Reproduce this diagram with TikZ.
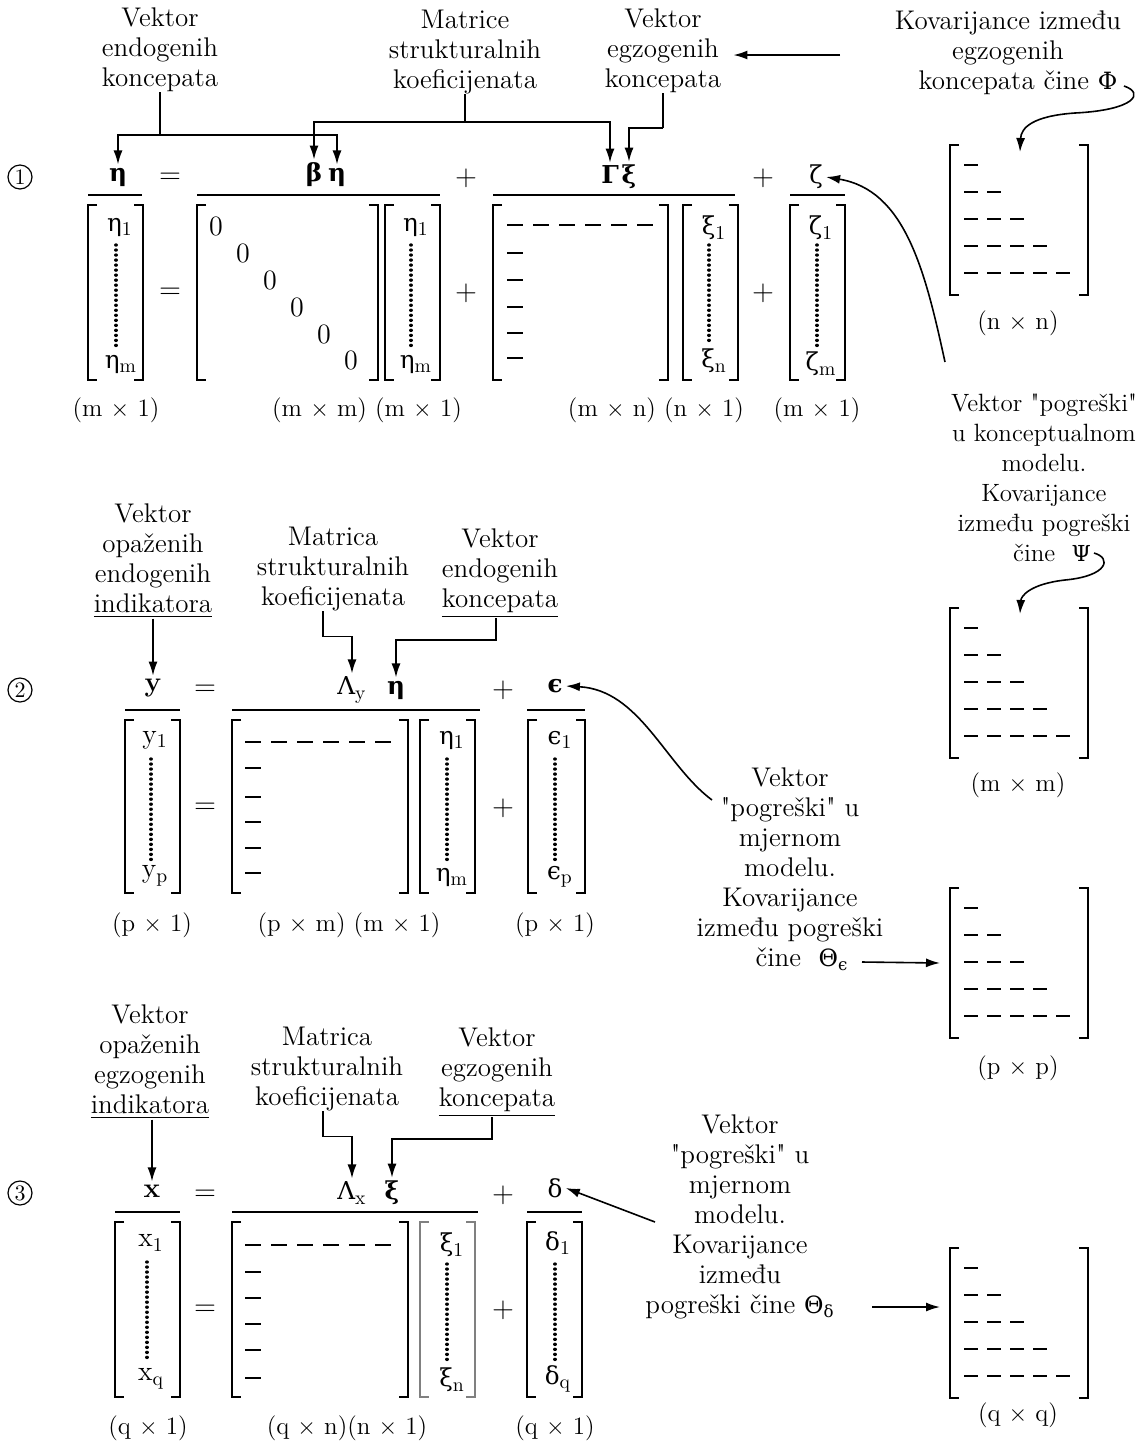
\documentclass[tikz,border=0pt]{standalone}
\usepackage{amsmath,amssymb}
\usepackage{fontspec}
\setmainfont{Latin Modern Roman}[Ligatures=TeXOff]
\newfontfamily\grk{DejaVu Serif}[Scale=0.88]
\newcommand\G[1]{{\grk #1}}
\newcommand\GB[1]{{\grk\bfseries #1}}
\usetikzlibrary{arrows.meta,calc}
\newcommand\mbrk[4]{%
 \draw[brk] (#1+9,#2) -- (#1,#2) -- (#1,#4) -- (#1+9,#4);
 \draw[brk] (#3-9,#2) -- (#3,#2) -- (#3,#4) -- (#3-9,#4);}
\newcommand\trimat[1]{%
 \draw[brk] (959,#1) -- (950,#1) -- (950,#1+150) -- (959,#1+150);
 \draw[brk] (1079,#1) -- (1088,#1) -- (1088,#1+150) -- (1079,#1+150);
 \foreach \r in {1,...,5}{\foreach \k in {1,...,\r}{\draw[dsh] ({964+(\k-1)*23},{#1+20+(\r-1)*27}) -- ++(14,0);}}}
\newcommand\lowmat[3]{% x0, ytop row, list of column rows
 \foreach \k in {0,...,5}{\draw[dsh] ({#1+\k*26},#2) -- ++(16,0);}
 \foreach \yy in {#3}{\draw[dsh] (#1,\yy) -- ++(16,0);}}
\begin{document}
\begin{tikzpicture}[x=0.5pt,y=-0.5pt,
 txt/.style={font=\fontsize{13.5}{15}\selectfont, align=center, inner sep=0pt},
 dim/.style={font=\fontsize{12.5}{15}\selectfont, inner sep=0pt},
 sym/.style={font=\fontsize{14}{15}\selectfont, inner sep=1.5pt},
 ln/.style={line width=0.8pt},
 arr/.style={line width=0.8pt,-{Latex[length=7pt,width=4.5pt]}},
 brk/.style={line width=0.9pt},
 dsh/.style={line width=0.8pt},
 dotv/.style={line width=1.7pt, dash pattern=on 0.01pt off 2.5pt, line cap=round},
 circ/.style={circle,draw,line width=0.6pt,inner sep=0pt,minimum size=12pt,font=\fontsize{11}{13}\selectfont}]
\fill[white] (0,0) rectangle (1141,1448);
\useasboundingbox (0,0) rectangle (1141,1448);

%% ================= ROW 1 =================
\node[txt] (lab1a) at (160,50) {Vektor\\endogenih\\koncepata};
\node[txt] (lab1b) at (465,52) {Matrice\\strukturalnih\\koeficijenata};
\node[txt] (lab1c) at (663,51) {Vektor\\egzogenih\\koncepata};
\node[txt] (lab1d) at (1008,53) {Kovarijance između\\egzogenih\\\hspace*{10pt}koncepata čine \G{Φ}};

\node[circ] (c1) at (20,177) {1};
\node[sym] (eta0) at (118,177) {\GB{η}};
\node[sym] (eq1) at (170,178) {$=$};
\node[sym] (beta) at (314,175) {\GB{β}};
\node[sym] (eta1) at (337,177) {\GB{η}};
\node[sym] (pl1) at (466,178) {$+$};
\node[sym] (Gam) at (610,175) {\GB{Γ}};
\node[sym] (xi1) at (629,177) {\GB{ξ}};
\node[sym] (pl2) at (763,178) {$+$};
\node[sym] (zeta) at (816,177) {\G{ζ}};
\draw[ln] (88,195) -- (142,195);
\draw[ln] (197,195) -- (440,195);
\draw[ln] (493,195) -- (735,195);
\draw[ln] (790,195) -- (845,195);

\coordinate (j1a) at (160,135);
\draw[ln] (lab1a.south) -- (j1a);
\draw[arr] (j1a) -| (eta0.north);
\draw[arr] (j1a) -| (eta1.north);
\coordinate (j1b) at (465,122);
\draw[ln] (lab1b.south) -- (j1b);
\draw[arr] (j1b) -| (beta.north);
\draw[arr] (j1b) -| (Gam.north);
\coordinate (j1c) at (663,128);
\draw[ln] (lab1c.south) -- (j1c);
\draw[arr] (j1c) -| (xi1.north);
\coordinate (a1s) at (840,55);
\draw[arr,shorten >=6pt] (a1s) -- (a1s -| lab1c.east);

% matrices row 1
\mbrk{88}{205}{143}{380}
\node[sym] (e11) at (120,227) {\G{η}\textsubscript{1}};
\node[sym] (e1m) at (121,364) {\G{η}\textsubscript{m}};
\draw[dotv] (116,245) -- (116,346);
\node[sym] (eqm1) at (170,293) {$=$};
\mbrk{197}{205}{378}{380}
\foreach \i/\xx/\yy in {1/216/226,2/243/253,3/270/280,4/297/307,5/324/334,6/351/360}
  \node[sym] (z\i) at (\xx,\yy) {0};
\mbrk{385}{205}{440}{380}
\node[sym] (e21) at (416,227) {\G{η}\textsubscript{1}};
\node[sym] (e2m) at (416,364) {\G{η}\textsubscript{m}};
\draw[dotv] (411,245) -- (411,346);
\node[sym] (plm1) at (466,293) {$+$};
\mbrk{493}{205}{668}{380}
\lowmat{507}{225}{253,280,307,333,358}
\mbrk{683}{205}{738}{380}
\node[sym] (x11) at (714,228) {\G{ξ}\textsubscript{1}};
\node[sym] (x1n) at (714,361) {\G{ξ}\textsubscript{n}};
\draw[dotv] (709,245) -- (709,345);
\node[sym] (plm2) at (763,293) {$+$};
\mbrk{790}{205}{845}{380}
\node[sym] (zz1) at (821,228) {\G{ζ}\textsubscript{1}};
\node[sym] (zzm) at (821,364) {\G{ζ}\textsubscript{m}};
\draw[dotv] (817,245) -- (817,346);

\node[dim] (d1a) at (116,410) {(m $\times$ 1)};
\node[dim] (d1b) at (367,410) {(m $\times$ m) (m $\times$ 1)};
\node[dim] (d1c) at (656,410) {(m $\times$ n) (n $\times$ 1)};
\node[dim] (d1d) at (817,410) {(m $\times$ 1)};

% Phi matrix
\trimat{145}
\node[dim] (d1e) at (1018,323) {(n $\times$ n)};
\coordinate (phis) at (1124,86);
\coordinate (phit) at (1020,152);
\draw[arr] (phis) .. controls (1145,93) and (1135,110) .. (1075,113) .. controls (1032,116) and (1021,128) .. (phit);

% Psi label and curves
\node[txt,font=\fontsize{12.5}{15}\selectfont] (lab1e) at (1044,478) {Vektor "pogreški"\\u konceptualnom\\modelu.\\Kovarijance\\između pogreški\\\hspace*{8pt}čine \ \G{Ψ}};
\coordinate (zs) at (945,362);
\draw[arr] (zs) .. controls (925,270) and (905,190) .. (zeta.east);
\coordinate (psis) at (1094,553);
\coordinate (psit) at (1020,614);
\draw[arr] (psis) .. controls (1112,558) and (1108,576) .. (1065,580) .. controls (1030,584) and (1021,596) .. (psit);
\trimat{608}
\node[dim] (d1f) at (1018,785) {(m $\times$ m)};

%% ================= ROW 2 =================
\node[txt] (lab2a) at (153,561) {Vektor\\opaženih\\endogenih\\\underline{indikatora}};
\node[txt] (lab2b) at (333,569) {Matrica\\strukturalnih\\koeficijenata};
\node[txt] (lab2c) at (500,573) {Vektor\\endogenih\\\underline{koncepata}};

\node[circ] (c2) at (20,690) {2};
\node[sym] (ysym) at (153,688) {\textbf{y}};
\node[sym] (eq2) at (205,690) {$=$};
\node[sym] (Lam2) at (352,690) {\G{Λ}\textsubscript{y}};
\node[sym] (eta2) at (396,690) {\GB{η}};
\node[sym] (pl3) at (503,690) {$+$};
\node[sym] (eps) at (555,686) {\GB{ϵ}};
\draw[ln] (125,710) -- (180,710);
\draw[ln] (232,710) -- (480,710);
\draw[ln] (527,710) -- (585,710);

\draw[arr] (lab2a.south) -- (ysym.north);
\draw[arr] ([xshift=-5pt]lab2b.south) -- ++(0,25) -| (Lam2.north);
\draw[arr] ([xshift=-2pt]lab2c.south) -- ++(0,22) -| (eta2.north);

\mbrk{125}{720}{180}{893}
\node[sym] (y1) at (155,740) {y\textsubscript{1}};
\node[sym] (yp) at (155,876) {y\textsubscript{p}};
\draw[dotv] (151,759) -- (151,860);
\node[sym] (eqm2) at (205,808) {$=$};
\mbrk{232}{720}{408}{893}
\lowmat{245}{742}{768,797,822,848,873}
\mbrk{420}{720}{475}{893}
\node[sym] (e31) at (452,740) {\G{η}\textsubscript{1}};
\node[sym] (e3m) at (452,877) {\G{η}\textsubscript{m}};
\draw[dotv] (447,759) -- (447,860);
\node[sym] (plm3) at (503,808) {$+$};
\mbrk{528}{720}{585}{893}
\node[sym] (ep1) at (560,740) {\G{ϵ}\textsubscript{1}};
\node[sym] (epp) at (560,877) {\G{ϵ}\textsubscript{p}};
\draw[dotv] (555,759) -- (555,860);

\node[dim] (d2a) at (152,925) {(p $\times$ 1)};
\node[dim] (d2b) at (349,925) {(p $\times$ m) (m $\times$ 1)};
\node[dim] (d2c) at (555,925) {(p $\times$ 1)};

\node[txt] (lab2d) at (790,869) {Vektor\\"pogreški" u\\mjernom\\modelu.\\Kovarijance\\između pogreški\\\hspace*{12pt}čine \ \G{Θ}\textsubscript{\G{ϵ}}};
\coordinate (epss) at (712,800);
\draw[arr] (epss) .. controls (665,765) and (640,690) .. (eps.east);
\coordinate (thes) at (862,962);
\coordinate (thet) at (940,963);
\draw[arr] (thes) -- (thet);
\trimat{888}
\node[dim] (d2d) at (1018,1068) {(p $\times$ p)};

%% ================= ROW 3 =================
\node[txt] (lab3a) at (150,1062) {Vektor\\opaženih\\egzogenih\\\underline{indikatora}};
\node[txt] (lab3b) at (327,1069) {Matrica\\strukturalnih\\koeficijenata};
\node[txt] (lab3c) at (497,1072) {Vektor\\egzogenih\\\underline{koncepata}};

\node[circ] (c3) at (20,1193) {3};
\node[sym] (xsym) at (152,1191) {\textbf{x}};
\node[sym] (eq3) at (205,1195) {$=$};
\node[sym] (Lam3) at (352,1193) {\G{Λ}\textsubscript{x}};
\node[sym] (xi3) at (392,1193) {\GB{ξ}};
\node[sym] (pl4) at (503,1195) {$+$};
\node[sym] (delta) at (555,1188) {\G{δ}};
\draw[ln] (115,1212) -- (180,1212);
\draw[ln] (232,1212) -- (478,1212);
\draw[ln] (527,1212) -- (582,1212);

\draw[arr] (lab3a.south -| xsym.north) -- (xsym.north);
\draw[arr] ([xshift=-2pt]lab3b.south) -- ++(0,25) -| (Lam3.north);
\draw[arr] ([xshift=-2.5pt]lab3c.south) -- ++(0,22) -| (xi3.north);

\mbrk{115}{1222}{180}{1397}
\node[sym] (x1) at (151,1243) {x\textsubscript{1}};
\node[sym] (xq) at (151,1379) {x\textsubscript{q}};
\draw[dotv] (147,1262) -- (147,1362);
\node[sym] (eqm3) at (205,1310) {$=$};
\mbrk{232}{1222}{408}{1397}
\lowmat{245}{1245}{1272,1298,1324,1350,1378}
\begin{scope}[brk/.append style={draw=gray}]
\mbrk{420}{1222}{475}{1397}
\end{scope}
\node[sym] (x31) at (452,1245) {\G{ξ}\textsubscript{1}};
\node[sym] (x3n) at (452,1380) {\G{ξ}\textsubscript{n}};
\draw[dotv] (447,1264) -- (447,1364);
\node[sym] (plm4) at (503,1310) {$+$};
\mbrk{527}{1222}{582}{1397}
\node[sym] (dl1) at (558,1243) {\G{δ}\textsubscript{1}};
\node[sym] (dlq) at (558,1379) {\G{δ}\textsubscript{q}};
\draw[dotv] (555,1264) -- (555,1362);

\node[dim] (d3a) at (148,1428) {(q $\times$ 1)};
\node[dim] (d3b) at (347,1428) {(q $\times$ n)(n $\times$ 1)};
\node[dim] (d3c) at (555,1428) {(q $\times$ 1)};

\node[txt] (lab3d) at (740,1217) {Vektor\\"pogreški" u\\mjernom\\modelu.\\Kovarijance\\između\\pogreški čine \G{Θ}\textsubscript{\G{δ}}};
\coordinate (dels) at (655,1222);
\draw[arr] (dels) -- (delta.east);
\coordinate (thds) at (872,1307);
\coordinate (thdt) at (940,1307);
\draw[arr] (thds) -- (thdt);
\trimat{1248}
\node[dim] (d3d) at (1018,1415) {(q $\times$ q)};
\end{tikzpicture}
\end{document}
